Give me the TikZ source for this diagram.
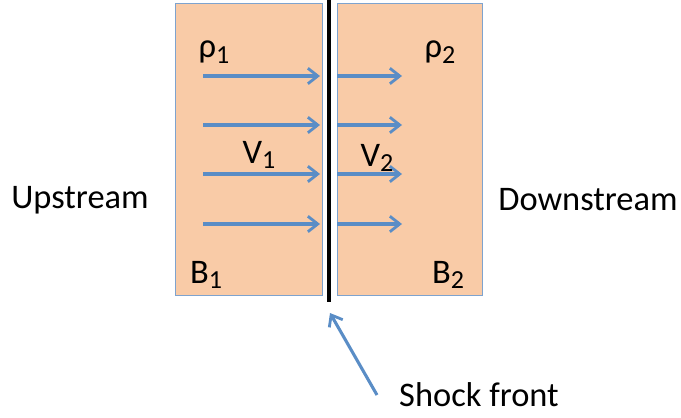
\documentclass[tikz,border=0pt]{standalone}
\usepackage{fontspec}
\setmainfont{Carlito}
\usepackage{xcolor}
\usetikzlibrary{arrows.meta, positioning, calc}

\definecolor{peach}{HTML}{F9CBA7}
\definecolor{boxline}{HTML}{7EA3CE}
\definecolor{flow}{HTML}{5A8DC6}
\newcommand{\lowidx}[1]{\raisebox{-0.35ex}{\fontsize{18.5}{21}\selectfont #1}}

\begin{document}
\begin{tikzpicture}[x=0.025cm, y=0.025cm, font=\fontsize{24.5}{28}\selectfont]
\useasboundingbox (0,0) rectangle (681,417);
\tikzset{
  region/.style={draw=boxline, fill=peach, line width=1pt},
  flowarrow/.style={-{Straight Barb[length=7pt, width=11pt, line width=2pt]}, flow, line width=2.2pt}
}
% Upstream and downstream regions
\node[region, minimum width=147*0.025cm, minimum height=292*0.025cm, inner sep=0pt, anchor=south west] (up) at (175,121) {};
\node[region, minimum width=145*0.025cm, minimum height=292*0.025cm, inner sep=0pt, anchor=south west] (down) at (337,121) {};

% Shock front
\coordinate (ftop) at (329,417);
\coordinate (fbot) at (329,115);
\draw[line width=2.6pt] (ftop) -- (fbot);

% Flow arrows
\foreach \i/\y in {1/341, 2/292, 3/243, 4/193} {
   \coordinate (a\i) at (203,\y);
   \coordinate (b\i) at (320,\y);
   \coordinate (c\i) at (337,\y);
   \coordinate (d\i) at (402,\y);
   \draw[flowarrow] (a\i) -- (b\i);
   \draw[flowarrow] (c\i) -- (d\i);
}

% Labels
\node (rho1) at (214,365) {ρ\lowidx{1}};
\node (rho2) at (440,365) {ρ\lowidx{2}};
\node (v1) at (259,262) {V\lowidx{1}};
\node (v2) at (377,259) {V\lowidx{2}};
\node (b1) at (206,142) {B\lowidx{1}};
\node (b2) at (448,142) {B\lowidx{2}};
\node (upstream) at (80,217) {Upstream};
\node (downstream) at (588,217) {Downstream};
\node[inner sep=0pt, anchor=base] (shock) at (479,11) {Shock front};

\coordinate (tail) at (377,22);
\coordinate (tip) at (330,104);
\draw[flowarrow] (tail) -- (tip);
\end{tikzpicture}
\end{document}
